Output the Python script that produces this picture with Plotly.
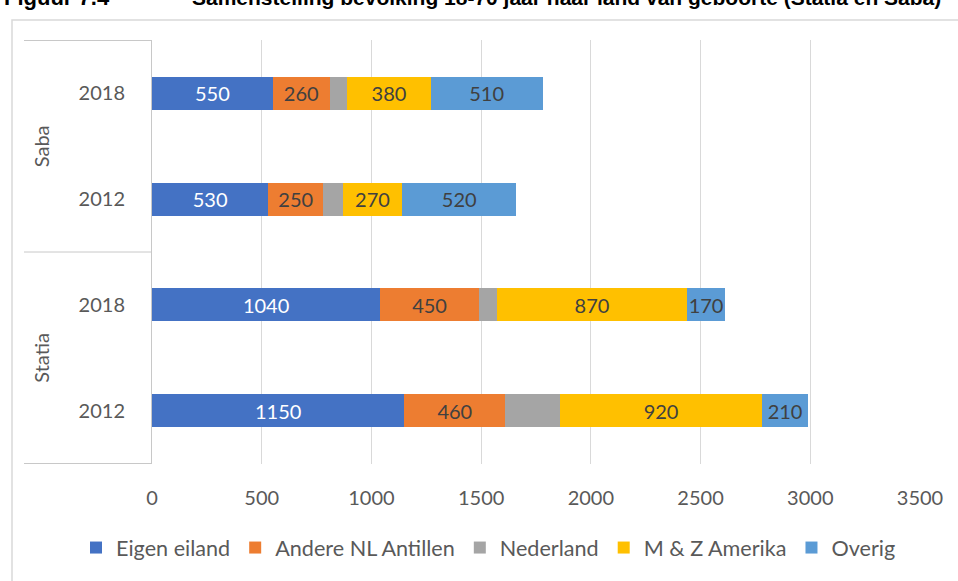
import plotly.graph_objects as go

# ---- data ----
islands = ["Statia", "Statia", "Saba", "Saba"]
years = ["2012", "2018", "2012", "2018"]
series_names = ["Eigen eiland", "Andere NL Antillen", "Nederland", "M & Z Amerika", "Overig"]
eigen_eiland = [1150, 1040, 530, 550]
andere_nl_antillen = [460, 450, 250, 260]
nederland = [250, 80, 90, 80]
mz_amerika = [920, 870, 270, 380]
overig = [210, 170, 520, 510]
x_ticks = [0, 500, 1000, 1500, 2000, 2500, 3000, 3500]

values = [eigen_eiland, andere_nl_antillen, nederland, mz_amerika, overig]
colors = ["#4472C4", "#ED7D31", "#A5A5A5", "#FFC000", "#5B9BD5"]
label_colors = ["#FFFFFF", "#404040", "#404040", "#404040", "#404040"]
show_labels = [True, True, False, True, True]

cats = [f"{i} {y}" for i, y in zip(islands, years)]

FONT = "Lato"
fig = go.Figure()
for name, vals, col, lcol, show in zip(series_names, values, colors, label_colors, show_labels):
    fig.add_trace(go.Bar(
        x=vals, y=cats, orientation="h", name=name,
        marker=dict(color=col, line=dict(width=0)),
        text=[str(v) for v in vals] if show else None,
        textposition="inside" if show else "none",
        insidetextanchor="middle",
        constraintext="none",
        textfont=dict(family=FONT, size=20, color=lcol),
    ))

L, R, T, B = 152, 38, 40, 117
W, H = 958, 581
pw, ph = W - L - R, H - T - B

def px_x(p):
    return (p - L) / pw

def px_y(p):
    return (T + ph - p) / ph

shapes = []
# outer chart border
shapes.append(dict(type="rect", xref="paper", yref="paper",
                   x0=px_x(12), x1=px_x(975), y0=px_y(600), y1=px_y(20),
                   line=dict(color="#D9D9D9", width=1.5), layer="below"))
# group divider lines
for yv in [-0.5, 1.5, 3.5]:
    shapes.append(dict(type="line", xref="paper", yref="y",
                       x0=px_x(24), x1=0, y0=yv, y1=yv,
                       line=dict(color="#C8C8C8", width=1)))

annotations = []
# group labels (rotated)
for name, yc in [("Statia", 0.5), ("Saba", 2.5)]:
    annotations.append(dict(text=name, xref="paper", yref="y", x=px_x(41), y=yc,
                            textangle=-90, showarrow=False,
                            font=dict(family=FONT, size=20, color="#595959"),
                            xanchor="center", yanchor="middle"))
# clipped title at top
annotations.append(dict(text="<b>Figuur 7.4</b>", xref="paper", yref="paper",
                        x=px_x(2), y=px_y(-2), xanchor="left", yanchor="middle",
                        showarrow=False,
                        font=dict(family="Liberation Sans", size=22, color="#000000")))
annotations.append(dict(text="<b>Samenstelling bevolking 18-70 jaar naar land van geboorte (Statia en Saba)</b>",
                        xref="paper", yref="paper",
                        x=px_x(190), y=px_y(-2), xanchor="left", yanchor="middle",
                        showarrow=False,
                        font=dict(family="Liberation Sans", size=21, color="#000000")))

fig.update_layout(
    width=W, height=H,
    margin=dict(l=L, r=R, t=T, b=B, pad=0),
    paper_bgcolor="white", plot_bgcolor="white",
    barmode="stack", bargap=0.69,
    font=dict(family=FONT, size=20, color="#595959"),
    showlegend=True,
    legend=dict(orientation="h", x=px_x(76), xanchor="left",
                y=px_y(548), yanchor="middle",
                font=dict(family=FONT, size=21.6, color="#595959"),
                itemwidth=30, tracegroupgap=0, traceorder="normal"),
    xaxis=dict(range=[0, 3500], tickvals=x_ticks, ticktext=[str(t) for t in x_ticks],
               showgrid=True, gridcolor="#D9D9D9", gridwidth=1,
               zeroline=False, showline=False, ticks="",
               ticklabelstandoff=20,
               tickfont=dict(family=FONT, size=20, color="#595959")),
    yaxis=dict(type="category", categoryorder="array", categoryarray=cats,
               tickvals=cats, ticktext=years,
               showgrid=False, zeroline=False,
               showline=True, linecolor="#C8C8C8", linewidth=1,
               ticks="", ticklabelstandoff=22,
               tickfont=dict(family=FONT, size=20, color="#595959")),
    shapes=shapes, annotations=annotations,
)

fig.write_html("out.html", config={"displayModeBar": False},
               post_script="document.body.style.margin='0';document.body.style.padding='0';document.body.style.overflow='hidden';")
